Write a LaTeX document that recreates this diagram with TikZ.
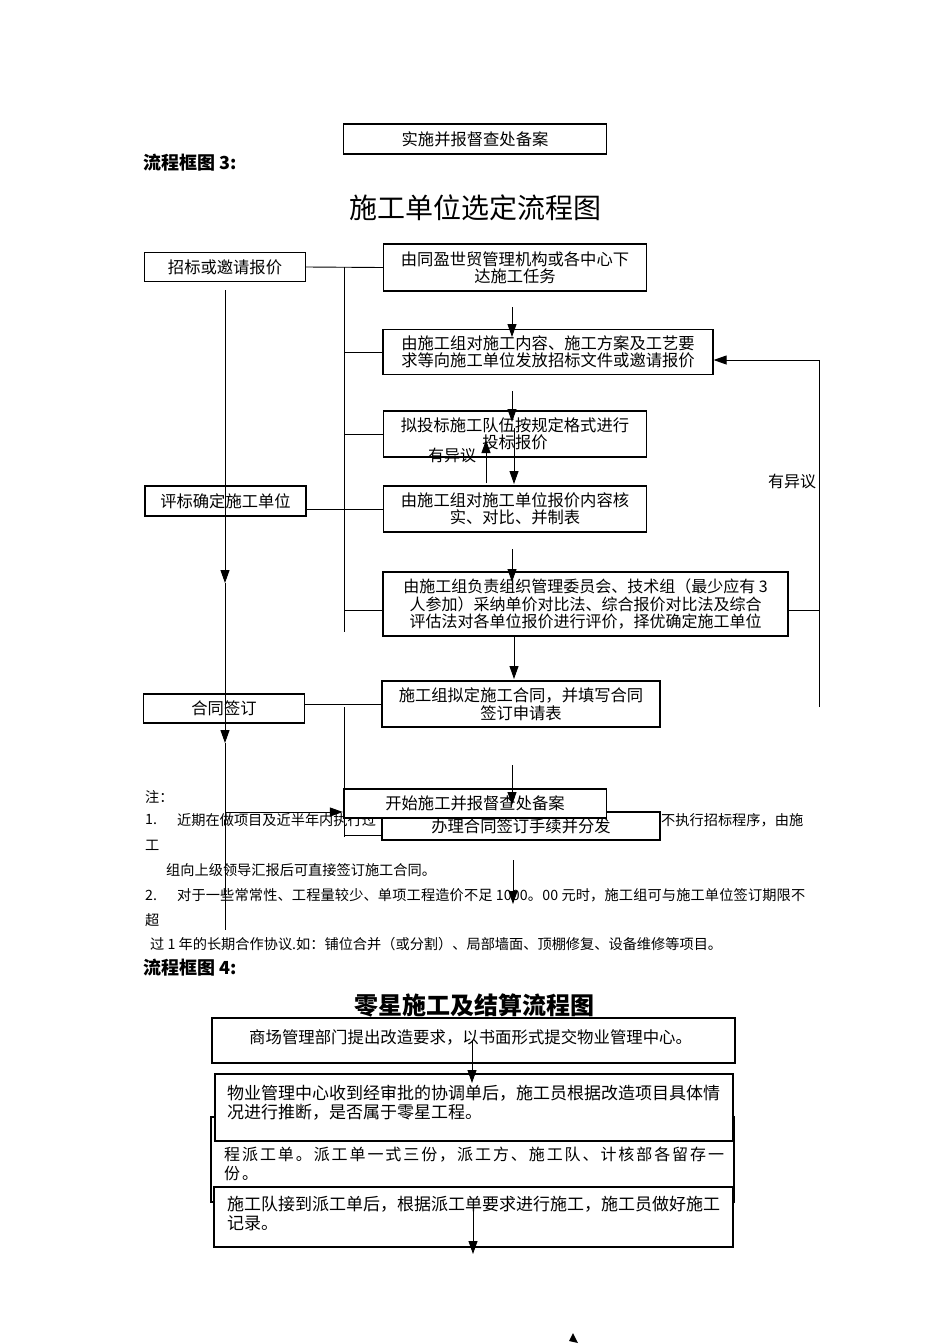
\documentclass[tikz,border=0pt]{standalone}
\usepackage{fontspec}
\setmainfont{Noto Sans CJK SC}
\usetikzlibrary{arrows.meta}
\newcommand\fsz[2]{\fontsize{#1}{#2}\selectfont}
\begin{document}
\begin{tikzpicture}[x=1pt,y=-1pt,
  box/.style={draw, line width=1.2pt, fill=white, inner sep=0pt, align=center, font=\fsz{16.3}{17.5}},
  ln/.style={line width=0.9pt},
  arr/.style={line width=0.9pt, -{Triangle[length=13pt,width=9pt]}},
  note/.style={anchor=west, inner sep=0pt, font=\fsz{14.2}{16}},
  lefttext/.style={anchor=west, inner sep=0pt, align=left},
]
\useasboundingbox[fill=white] (0,0) rectangle (950,1344);

% ---------------- notes text (drawn first, boxes cover parts) ----------------
\node[note] (n0) at (145,797) {注：};
\node[note] (n1a) at (145,820) {1.};
\node[note] (n1b) at (177,820) {近期在做项目及近半年内执行过};
\node[note] (n1c) at (661,820) {不执行招标程序，由施};
\node[note] (n1d) at (145,845) {工};
\node[note] (n2) at (166,870) {组向上级领导汇报后可直接签订施工合同。};
\node[note] (n3a) at (145,895) {2.};
\node[note, font=\fsz{14.2}{16}\addfontfeature{LetterSpace=1}] (n3b) at (177,895) {对于一些常常性、工程量较少、单项工程造价不足 1000。00 元时，施工组可与施工单位签订期限不};
\node[note] (n3c) at (145,920) {超};
\node[note] (n4) at (150,944) {过 1 年的长期合作协议.如：铺位合并（或分割）、局部墙面、顶棚修复、设备维修等项目。};

% ---------------- chart 3 ----------------
\node[box, minimum width=263pt, minimum height=30pt] (ttop) at (475,139) {实施并报督查处备案};
\node[anchor=west, inner sep=0pt, font=\fsz{18}{20}\bfseries] (h3) at (143,163) {流程框图 3:};
\node[inner sep=0pt, font=\fsz{28}{30}] (title3) at (475,208) {施工单位选定流程图};

\node[box, minimum width=161pt, minimum height=29pt] (zb) at (225,267) {招标或邀请报价};
\node[box, minimum width=263pt, minimum height=47pt] (b1) at (515,267.5) {由同盈世贸管理机构或各中心下\\达施工任务};
\node[box, minimum width=330pt, minimum height=45pt] (b2) at (548,352) {由施工组对施工内容、施工方案及工艺要\\求等向施工单位发放招标文件或邀请报价};
\node[box, minimum width=263pt, minimum height=46pt] (b3) at (515,434) {拟投标施工队伍按规定格式进行\\投标报价};
\node[box, minimum width=161pt, minimum height=30pt] (pb) at (225.5,501) {评标确定施工单位};
\node[box, minimum width=263pt, minimum height=46pt] (b4) at (515,509) {由施工组对施工单位报价内容核\\实、对比、并制表};
\node[box, minimum width=405pt, minimum height=64pt, font=\fsz{16}{17.5}] (b5) at (585.5,604) {由施工组负责组织管理委员会、技术组（最少应有 3\\人参加）采纳单价对比法、综合报价对比法及综合\\评估法对各单位报价进行评价，择优确定施工单位};
\node[box, minimum width=161pt, minimum height=29pt] (ht) at (224,708.5) {合同签订};
\node[box, minimum width=278pt, minimum height=46pt] (b6) at (521,704) {施工组拟定施工合同，并填写合同\\签订申请表};
\node[box, minimum width=278pt, minimum height=28pt] (bl) at (521,826) {办理合同签订手续并分发};
\node[box, minimum width=263pt, minimum height=29pt] (ks) at (475,803.5) {开始施工并报督查处备案};

\node[inner sep=0pt, font=\fsz{16}{18}] (yy1) at (452,455) {有异议};
\node[inner sep=0pt, font=\fsz{16}{18}] (yy2) at (792,481) {有异议};

% bus lines
\coordinate (bt) at (344,267);
\coordinate (bb) at (344,632);
\draw[ln] (zb.east) -- (b1.west);
\draw[ln] (bt) -- (bb);
\draw[ln] (b2.west -| bt) -- (b2.west);
\draw[ln] (b3.west -| bt) -- (b3.west);
\draw[ln] (pb.east |- b4.west) -- (b4.west);
\coordinate (c5) at (344,610);
\draw[ln] (c5) -- (c5 -| b5.west);

% feedback loop on the right
\coordinate (fb1) at (819,610);
\coordinate (fb2) at (819,360);
\coordinate (fb3) at (819,707);
\draw[ln] (b5.east |- fb1) -- (fb1);
\draw[ln] (fb3) -- (fb2);
\draw[arr] (fb2) -- (fb2 -| b2.east);

% middle arrows
\coordinate (a1s) at (512,307); \coordinate (a1e) at (512,337);
\coordinate (a2s) at (512,391); \coordinate (a2e) at (512,422);
\coordinate (a3s) at (514,428); \coordinate (a3e) at (514,484);
\coordinate (ups) at (486,483); \coordinate (upe) at (486,440);
\coordinate (a4s) at (512,549); \coordinate (a4e) at (512,582);
\coordinate (a5s) at (514,637); \coordinate (a5e) at (514,679);
\coordinate (a6s) at (512,765); \coordinate (a6e) at (512,805);
\coordinate (a7s) at (513,860); \coordinate (a7e) at (513,904);
\draw[arr] (a1s) -- (a1e);
\draw[arr] (a2s) -- (a2e);
\draw[arr] (a3s) -- (a3e);
\draw[arr] (ups) -- (upe);
\draw[arr] (a4s) -- (a4e);
\draw[arr] (a5s) -- (a5e);
\draw[arr] (a6s) -- (a6e);
\draw[arr] (a7s) -- (a7e);

% left vertical line
\coordinate (L0) at (225,290);
\coordinate (L1) at (225,583);
\coordinate (L2) at (225,743);
\coordinate (L3) at (225,930);
\draw[arr] (L0) -- (L1);
\draw[arr] (L1) -- (L2);
\draw[ln] (L2) -- (L3);
\coordinate (R0) at (225,812);
\draw[arr] (R0) -- (R0 -| ks.west);

% contract bus
\draw[ln] (ht.east |- b6.west) -- (b6.west);
\coordinate (v0) at (344,707);
\coordinate (v1) at (344,837);
\coordinate (v2) at (344,835);
\draw[ln] (v0) -- (v1);
\draw[ln] (v2) -- (v2 -| bl.west);

% ---------------- chart 4 ----------------
\node[anchor=west, inner sep=0pt, font=\fsz{18}{20}\bfseries] (h4) at (143,968) {流程框图 4:};
\node[inner sep=0pt, font=\fsz{24}{26}\bfseries] (title4) at (474,1005) {零星施工及结算流程图};

\node[box, minimum width=523pt, minimum height=45pt] (bA) at (473.5,1040.5) {};
\node[lefttext, font=\fsz{16.4}{18}] (tA) at (249,1037) {商场管理部门提出改造要求，以书面形式提交物业管理中心。};

\node[box, minimum width=523pt, minimum height=85pt] (bC) at (472.5,1159.5) {};
\node[lefttext, font=\fsz{16}{18.5}\addfontfeature{LetterSpace=12}] (tC) at (224,1164) {程派工单。派工单一式三份，派工方、施工队、计核部各留存一\\份。};

\node[box, minimum width=518pt, minimum height=67pt] (bB) at (474,1107.5) {};
\node[lefttext, font=\fsz{17}{19}] (tB) at (227,1102.5) {物业管理中心收到经审批的协调单后，施工员根据改造项目具体情\\况进行推断，是否属于零星工程。};

\node[box, minimum width=519pt, minimum height=60pt] (bD) at (473.5,1217) {};
\node[lefttext, font=\fsz{17}{19}] (tD) at (227,1213.5) {施工队接到派工单后，根据派工单要求进行施工，施工员做好施工\\记录。};

\coordinate (aAs) at (472,1040); \coordinate (aAe) at (472,1083);
\coordinate (aDs) at (473,1203); \coordinate (aDe) at (473,1254);
\draw[arr] (aAs) -- (aAe);
\draw[arr] (aDs) -- (aDe);

\fill (573,1333) -- (569,1341) -- (578,1343) -- cycle;
\end{tikzpicture}
\end{document}
